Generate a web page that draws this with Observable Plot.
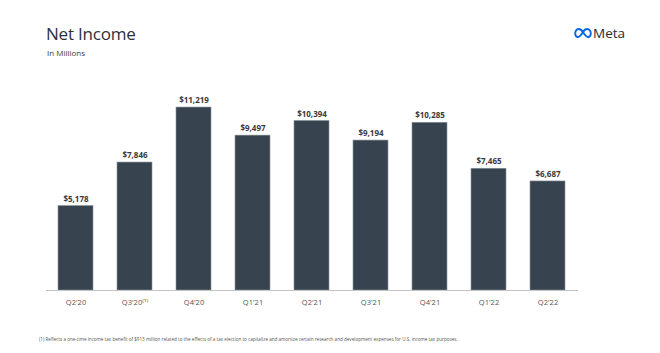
<!DOCTYPE html>
<html>
<head>
<meta charset="utf-8">
<script src="https://cdn.jsdelivr.net/npm/d3@7"></script>
<script src="https://cdn.jsdelivr.net/npm/@observablehq/plot@0.6"></script>
<style>
  body { margin: 0; background: #fff; }
  #wrap { position: relative; width: 660px; height: 353px; overflow: hidden; font-family: "Open Sans", sans-serif; }
  #title { position: absolute; left: 46px; top: 22px; font-size: 17px; color: #2b3138; letter-spacing: -0.2px; }
  #subtitle { position: absolute; left: 47px; top: 47px; font-size: 8px; color: #3d3d3d; }
  #logo { position: absolute; left: 574px; top: 24px; display: flex; align-items: center; }
  #logo span { font-size: 13.5px; color: #1c2b33; margin-left: 1px; }
  #foot { position: absolute; left: 39px; top: 336px; font-size: 4.6px; color: #555; white-space: nowrap; }
  #chart { position: absolute; left: 0; top: 0; }
</style>
</head>
<body>
<div id="wrap">
  <div id="chart"></div>
  <div id="title">Net Income</div>
  <div id="subtitle">In Millions</div>
  <div id="logo">
    <svg width="18" height="12" viewBox="0 0 18 12"><path d="M4.5,2 C2.3,2 1.2,4.5 1.2,6.5 C1.2,8.6 2.3,10 4,10 C6,10 7.5,7.5 9,5 C10.5,2.5 11.5,2 13,2 C15.5,2 16.8,4.3 16.8,6.5 C16.8,8.6 15.7,10 14,10 C12,10 10.5,7.5 9,5 C7.5,2.5 6.5,2 4.5,2 Z" fill="none" stroke="#0668e1" stroke-width="1.9"/></svg>
    <span>Meta</span>
  </div>
  <div id="foot">(1) Reflects a one-time income tax benefit of $913 million related to the effects of a tax election to capitalize and amortize certain research and development expenses for U.S. income tax purposes.</div>
</div>
<script>
const quarters = ["Q2'20", "Q3'20", "Q4'20", "Q1'21", "Q2'21", "Q3'21", "Q4'21", "Q1'22", "Q2'22"];
const netIncome = [5178, 7846, 11219, 9497, 10394, 9194, 10285, 7465, 6687];
const tickLabels = ["Q2'20", "Q3'20⁽¹⁾", "Q4'20", "Q1'21", "Q2'21", "Q3'21", "Q4'21", "Q1'22", "Q2'22"];

const data = quarters.map((q, i) => ({q, v: netIncome[i]}));
const fmt = d3.format(",");

const chart = Plot.plot({
  width: 660,
  height: 353,
  marginLeft: 46,
  marginRight: 82,
  marginTop: 94.3,
  marginBottom: 63,
  style: {fontFamily: "'Open Sans', sans-serif", background: "transparent"},
  x: {domain: quarters, paddingInner: 0.4, paddingOuter: 0.2, label: null},
  y: {domain: [0, 12000], axis: null},
  marks: [
    Plot.barY(data, {x: "q", y: "v", fill: "#37434f", stroke: "#8a949c", strokeWidth: 0.6}),
    Plot.ruleY([0], {stroke: "#c4c4c4", strokeWidth: 1}),
    Plot.text(data, {x: "q", y: "v", text: d => "$" + fmt(d.v), dy: -7, fontSize: 8, fontWeight: "bold", fill: "#3a3a3a"}),
    Plot.axisX({tickSize: 0, tickPadding: 9, fontSize: 7.5, fill: "#555", tickFormat: (d, i) => tickLabels[quarters.indexOf(d)]})
  ]
});
document.getElementById("chart").appendChild(chart);
</script>
</body>
</html>
